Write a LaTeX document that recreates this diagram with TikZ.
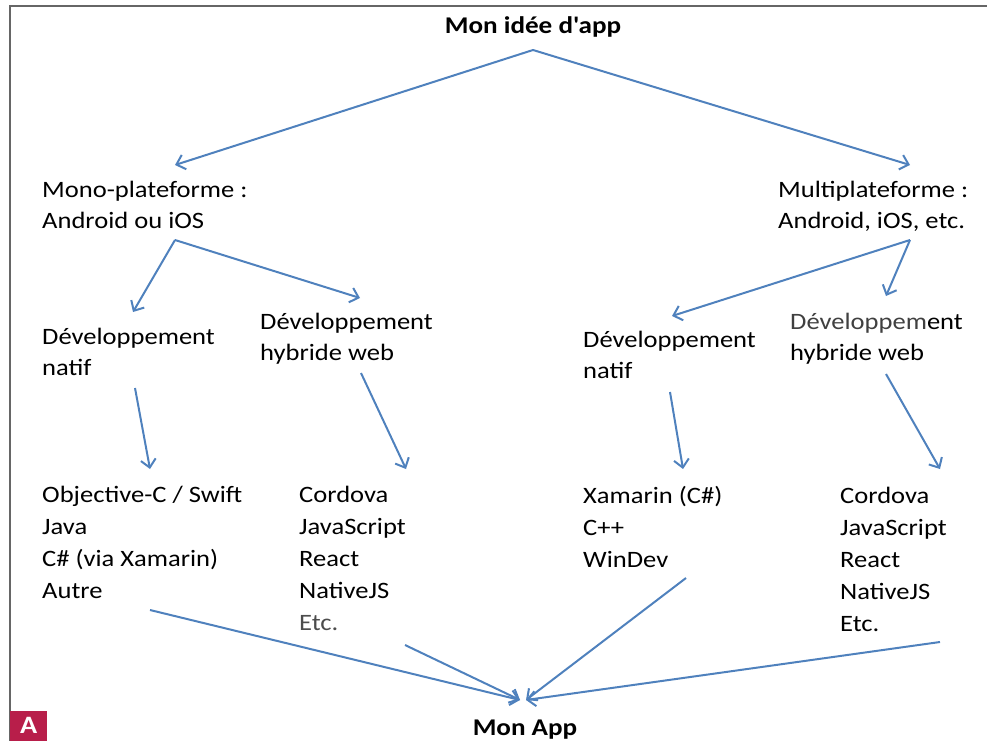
\documentclass[tikz,border=0pt]{standalone}
\usepackage{fontspec}
\setmainfont[FakeStretch=1.13, Ligatures=TeXOff]{Carlito}
\usetikzlibrary{arrows.meta, calc}

\definecolor{arrowblue}{HTML}{4F81BD}
\definecolor{badgered}{HTML}{B81E4A}

\begin{document}
\begin{tikzpicture}[
        x=1pt, y=-1pt,
        txt/.style={anchor=base west, inner sep=0pt, align=left, font=\fontsize{23.5}{31}\selectfont},
        list/.style={txt, font=\fontsize{23.5}{32}\selectfont},
        head/.style={anchor=base, inner sep=0pt, font=\fontsize{24}{30}\selectfont\bfseries},
        line/.style={draw=arrowblue, line width=2pt, -{Straight Barb[length=8pt, width=15pt]}}
    ]
        \useasboundingbox (0,0) rectangle (987,741);
        \draw[black!60, line width=1.2pt] (987,6) -- (10,6) -- (10,741);

        % base = ligne du bas de chaque bloc
        \node [head] (idee) at (533,34) {Mon idée d'app};
        \node [txt] (mono) at (42,228) {Mono-plateforme :\\Android ou iOS};
        \node [txt] (multi) at (778,228) {Multiplateforme :\\Android, iOS, etc.};

        \node [txt] (natifL) at (42,375) {Développement\\natif};
        \node [txt] (hybL) at (260,360) {Développement\\hybride web};
        \node [txt] (natifR) at (583,378) {Développement\\natif};
        \node [txt] (hybR) at (790,360) {{\color{black!75}Développem}ent\\hybride web};

        \node [list] (langL) at (42,598) {Objective-C / Swift\\Java\\C\# (via Xamarin)\\Autre};
        \node [list] (webL) at (299,630) {Cordova\\JavaScript\\React\\NativeJS\\{\color{black!70}Etc.}};
        \node [list] (langR) at (583,567) {Xamarin (C\#)\\C++\\WinDev};
        \node [list] (webR) at (840,631) {Cordova\\JavaScript\\React\\NativeJS\\Etc.};

        \node [head] (app) at (525,735) {Mon App};
        \node [fill=badgered, text=white, font=\fontsize{25}{28}\selectfont\bfseries, minimum width=37pt, minimum height=30pt, inner sep=0pt, anchor=south west] (badge) at (10,741) {A};

        % niveau 1
        \draw[line] ($(idee.base)+(0,16)$) -- ($(mono.base west)+(133,-63)$);
        \draw[line] ($(idee.base)+(0,16)$) -- ($(multi.base west)+(132,-63)$);

        % niveau 2
        \draw[line] ($(mono.base west)+(133,12)$) -- ($(natifL.base west)+(91,-63)$);
        \draw[line] ($(mono.base west)+(133,12)$) -- ($(hybL.base west)+(100,-62)$);
        \draw[line] ($(multi.base west)+(132,12)$) -- ($(natifR.base west)+(89,-62)$);
        \draw[line] ($(multi.base west)+(132,12)$) -- ($(hybR.base west)+(96,-64)$);

        % niveau 3
        \draw[line] ($(natifL.base west)+(93,13)$) -- ($(langL.base west)+(108,-129)$);
        \draw[line] ($(hybL.base west)+(101,13)$) -- ($(webL.base west)+(107,-161)$);
        \draw[line] ($(natifR.base west)+(87,14)$) -- ($(langR.base west)+(100,-98)$);
        \draw[line] ($(hybR.base west)+(96,14)$) -- ($(webR.base west)+(100,-162)$);

        % vers l'app
        \draw[line] ($(langL.base west)+(108,12)$) -- ($(app.base)+(-5,-35)$);
        \draw[line] ($(webL.base west)+(106,15)$) -- ($(app.base)+(-5,-35)$);
        \draw[line] ($(langR.base west)+(103,11)$) -- ($(app.base)+(1,-35)$);
        \draw[line] ($(webR.base west)+(100,11)$) -- ($(app.base)+(1,-35)$);
    \end{tikzpicture}
\end{document}
